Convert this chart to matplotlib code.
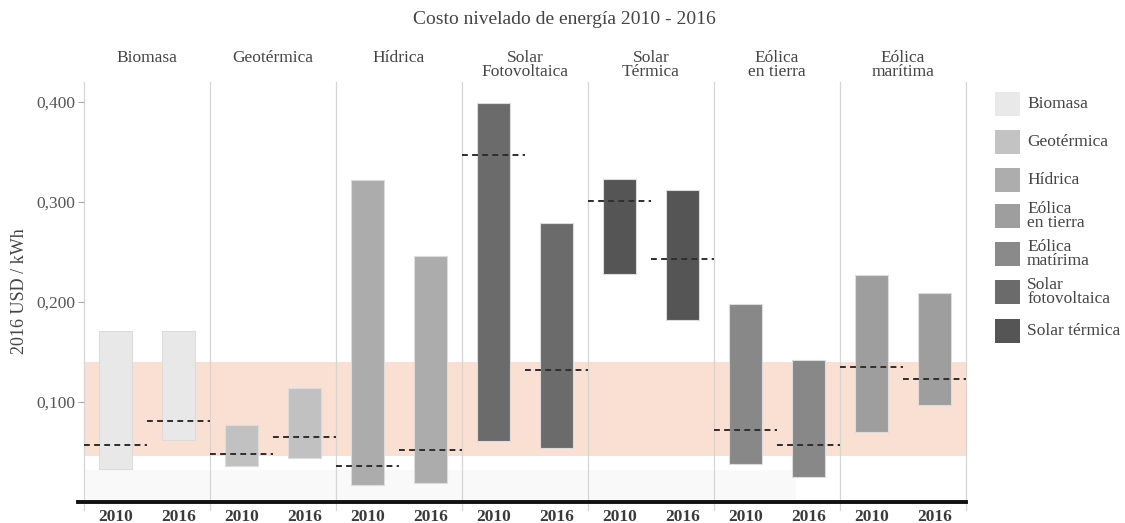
import matplotlib
matplotlib.use("Agg")
import matplotlib.pyplot as plt
from matplotlib.patches import Rectangle

# data (USD 2016 / kWh)
facets = ["Biomasa", "Geotérmica", "Hídrica", "Solar\nFotovoltaica",
          "Solar\nTérmica", "Eólica\nen tierra", "Eólica\nmarítima"]
years = ["2010", "2016"]
low_2010 = [0.033, 0.036, 0.017, 0.061, 0.228, 0.038, 0.070]
high_2010 = [0.171, 0.077, 0.322, 0.399, 0.323, 0.198, 0.227]
avg_2010 = [0.057, 0.048, 0.036, 0.347, 0.301, 0.072, 0.135]
low_2016 = [0.062, 0.044, 0.019, 0.054, 0.182, 0.025, 0.097]
high_2016 = [0.171, 0.114, 0.246, 0.279, 0.312, 0.142, 0.209]
avg_2016 = [0.081, 0.065, 0.052, 0.132, 0.243, 0.057, 0.123]
fossil_range = [0.046, 0.140]
yticks = [0.1, 0.2, 0.3, 0.4]
ytick_labels = ["0,100", "0,200", "0,300", "0,400"]

bar_colors = ["#e8e8e8", "#c1c1c1", "#acacac", "#6b6b6b", "#555555", "#888888", "#9e9e9e"]
legend_labels = ["Biomasa", "Geotérmica", "Hídrica", "Eólica\nen tierra",
                 "Eólica\nmatírima", "Solar\nfotovoltaica", "Solar térmica"]
legend_colors = ["#e9e9e9", "#c3c3c3", "#adadad", "#9e9e9e", "#8a8a8a", "#6b6b6b", "#555555"]

plt.rcParams["font.family"] = ["Liberation Serif", "DejaVu Serif"]

W, H = 1125, 523
fig = plt.figure(figsize=(W / 100, H / 100), dpi=100)
ax = fig.add_axes([84 / W, 1 - 501.7 / H, (966 - 84) / W, 420 / H])
n = len(facets)
ax.set_xlim(0, 2 * n)
ax.set_ylim(0, 0.42)

# faint grey strip near the bottom
ax.add_patch(Rectangle((0, 0), 11.3, 0.032, color="#f9f9f9", lw=0, zorder=0))
# fossil fuel cost band
ax.axhspan(fossil_range[0], fossil_range[1], color="#f9e0d2", lw=0, zorder=0.5)

bw = 0.53
for i in range(n):
    for j, (lo, hi, av) in enumerate([(low_2010, high_2010, avg_2010),
                                      (low_2016, high_2016, avg_2016)]):
        x = 2 * i + j + 0.5
        ax.bar(x, hi[i] - lo[i], bottom=lo[i], width=bw, color=bar_colors[i],
               edgecolor="#dcdcdc", linewidth=0.8, zorder=2)
        ax.plot([2 * i + j, 2 * i + j + 1], [av[i], av[i]], color="#2e2e2e",
                lw=1.4, ls=(0, (3, 2.2)), zorder=3)

for k in range(n + 1):
    ax.axvline(2 * k, color="#d6d6d6", lw=0.9, zorder=1, ymin=-0.02, clip_on=False)

for s in ax.spines.values():
    s.set_visible(False)

ax.plot([-0.1, 2 * n], [0, 0], color="#111111", lw=2.8, clip_on=False, zorder=4)

ax.set_yticks(yticks)
ax.set_yticklabels(ytick_labels, fontsize=12.5, color="#555555")
ax.tick_params(axis="y", length=4, color="#aaaaaa", width=0.8, pad=2)

ax.set_xticks([k + 0.5 for k in range(2 * n)])
ax.set_xticklabels(years * n, fontsize=12.5, color="#3a3a3a", fontweight="bold")
ax.tick_params(axis="x", length=0, pad=5)

for i, name in enumerate(facets):
    fig.text((84 + 126 * i + 63) / W, 1 - 50 / H, name, ha="center", va="top",
             fontsize=12.5, color="#444444", linespacing=0.85)

fig.text(564 / W, 1 - 19 / H, "Costo nivelado de energía 2010 - 2016", ha="center",
         va="center", fontsize=14, color="#444444")
fig.text(20 / W, 1 - 291 / H, "2016 USD / kWh", rotation=90, ha="center", va="center",
         fontsize=13, color="#444444")

# legend
leg_y = [104, 142, 180, 216, 254, 292, 331]
for yc, lab, col in zip(leg_y, legend_labels, legend_colors):
    fig.patches.append(Rectangle((995 / W, 1 - (yc + 12) / H), 25 / W, 24 / H,
                                 transform=fig.transFigure, color=col, lw=0))
    fig.text(1027 / W, 1 - yc / H, lab, ha="left", va="center", fontsize=12.5,
             color="#444444", linespacing=0.85)

fig.savefig("out.png", dpi=100)
